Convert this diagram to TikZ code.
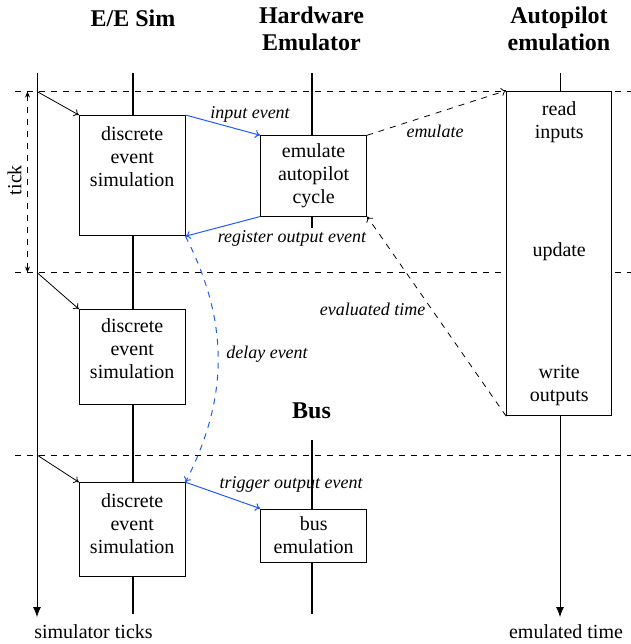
\documentclass[tikz,border=0pt]{standalone}
\usepackage{fontspec}
\setmainfont{Liberation Serif}
\usetikzlibrary{arrows.meta}
\definecolor{evblue}{RGB}{30,90,255}
\begin{document}
\begin{tikzpicture}[x=0.5pt,y=-0.5pt,
  every node/.style={font=\fontsize{10}{11.5}\selectfont},
  hdr/.style={font=\fontsize{12}{13.5}\selectfont\bfseries, align=center},
  box/.style={draw, line width=0.5pt, fill=white, inner sep=0pt},
  boxtext/.style={anchor=north, align=center, inner sep=0pt},
  lbl/.style={font=\fontsize{9}{10}\selectfont\itshape, inner sep=0pt},
  life/.style={line width=0.9pt},
  tline/.style={line width=0.4pt, -{Latex[length=5pt,width=4pt]}},
  gridline/.style={dashed, line width=0.4pt},
  thinarr/.style={line width=0.4pt, -{To[length=2.5pt,width=4pt]}},
  bluearr/.style={evblue, line width=0.5pt, -{To[length=2.5pt,width=4pt]}},
]
\useasboundingbox (0,0) rectangle (631,644);

% headers
\node[hdr] (hEE) at (133,18.5) {E/E Sim};
\node[hdr] (hHW) at (311.5,29) {Hardware\\Emulator};
\node[hdr] (hAP) at (559,29) {Autopilot\\emulation};
\node[hdr] (hBus) at (311.5,411) {Bus};

% coordinates
\coordinate (g1l) at (15,91.5);  \coordinate (g1r) at (631,91.5);
\coordinate (g2l) at (15,272.5); \coordinate (g2r) at (631,272.5);
\coordinate (g3l) at (15,455);   \coordinate (g3r) at (631,455);
\coordinate (tlTop) at (37,73);  \coordinate (tlBot) at (37,617);
\coordinate (t1) at (37,91.5); \coordinate (t2) at (37,272.5); \coordinate (t3) at (37,455);
\coordinate (k1) at (27.5,91.5); \coordinate (k2) at (27.5,272.5);
\coordinate (eeTop) at (133,73); \coordinate (eeBot) at (133,614);
\coordinate (hwTop) at (311.7,73); \coordinate (hwBot) at (311.7,228);
\coordinate (busTop) at (311.7,440); \coordinate (busBot) at (311.7,614);
\coordinate (apTop) at (560,73); \coordinate (apBot) at (560,617);

% grid lines
\draw[gridline] (g1l) -- (g1r);
\draw[gridline] (g2l) -- (g2r);
\draw[gridline] (g3l) -- (g3r);

% timelines
\draw[tline] (tlTop) -- (tlBot);
\draw[tline] (apTop) -- (apBot);
\draw[life] (eeTop) -- (eeBot);
\draw[life] (hwTop) -- (hwBot);
\draw[life] (busTop) -- (busBot);

% tick
\draw[dashed, line width=0.4pt, {Stealth[length=3pt,width=2.5pt]}-{Stealth[length=3pt,width=2.5pt]}] (k1) -- (k2);
\node[rotate=90] (tick) at (14.5,180) {tick};

% boxes
\node[box, minimum width=52.8pt, minimum height=60.1pt] (ee1) at (132.2,175.6) {};
\node[box, minimum width=52.8pt, minimum height=47.2pt] (ee2) at (132.2,356.8) {};
\node[box, minimum width=52.8pt, minimum height=47pt] (ee3) at (132.2,529.7) {};
\node[box, minimum width=53pt, minimum height=40.15pt] (hw) at (313.6,175.9) {};
\node[box, minimum width=53pt, minimum height=26.85pt] (bus) at (313.7,535.9) {};
\node[box, minimum width=52.5pt, minimum height=162.35pt] (ap) at (559.2,253.4) {};

% box texts
\node[boxtext, yshift=-5.6pt] (ee1t) at (ee1.north) {discrete\\event\\simulation};
\node[boxtext, yshift=-4.8pt] (ee2t) at (ee2.north) {discrete\\event\\simulation};
\node[boxtext, yshift=-5.6pt] (ee3t) at (ee3.north) {discrete\\event\\simulation};
\node[boxtext, yshift=-3.8pt] (hwt) at (hw.north) {emulate\\autopilot\\cycle};
\node[boxtext, yshift=-3.9pt] (bust) at (bus.north) {bus\\emulation};
\node[boxtext, yshift=-5.2pt] (apt1) at (ap.north) {read\\inputs};
\node (apt2) at (559.2,252) {update};
\node[align=center, inner sep=0pt] (apt3) at (559.2,385.5) {write\\outputs};

% connectors
\draw[thinarr] (t1) -- (ee1.north west);
\draw[thinarr] (t2) -- (ee2.north west);
\draw[thinarr] (t3) -- (ee3.north west);
\draw[bluearr] (ee1.north east) -- (hw.north west);
\draw[bluearr] (hw.south west) -- (ee1.south east);
\draw[thinarr, dashed] (hw.north east) -- (ap.north west);
\draw[thinarr, dashed] (ap.south west) -- (hw.south east);
\draw[bluearr, dashed] (ee1.south east) to[bend left=27] (ee3.north east);
\draw[bluearr] (ee3.north east) -- (bus.north west);

% labels
\node[lbl] (lIn) at (250,114) {input event};
\node[lbl] (lReg) at (292,238) {register output event};
\node[lbl] (lEm) at (435,131) {emulate};
\node[lbl] (lEv) at (372.5,309) {evaluated time};
\node[lbl] (lDel) at (267,354) {delay event};
\node[lbl] (lTrig) at (291,484) {trigger output event};

% axis labels
\node (simt) at (93.5,632) {simulator ticks};
\node (emt) at (566,632) {emulated time};
\end{tikzpicture}
\end{document}
